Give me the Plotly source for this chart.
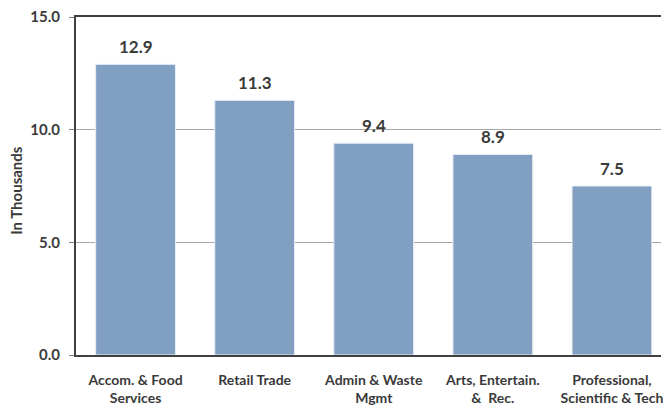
import plotly.graph_objects as go

categories = ["Accom. & Food<br>Services", "Retail Trade", "Admin & Waste<br>Mgmt",
              "Arts, Entertain.<br>&  Rec.", "Professional,<br>Scientific & Tech"]
values = [12.9, 11.3, 9.4, 8.9, 7.5]
labels = ["12.9", "11.3", "9.4", "8.9", "7.5"]
tick_vals = [0, 5, 10, 15]
tick_text = ["0.0", "5.0", "10.0", "15.0"]

FONT = "Lato"
TXT = "#3A3A3A"

fig = go.Figure(go.Bar(
    x=list(range(len(categories))), y=values,
    marker=dict(color="#819FC0", line=dict(color="#E8EEF5", width=1)),
    width=0.67,
))

for i, (v, t) in enumerate(zip(values, labels)):
    fig.add_annotation(x=i, y=v, text=t, showarrow=False, yanchor="bottom", yshift=5,
                       font=dict(family=FONT, size=17, color=TXT, weight="bold"))

fig.add_annotation(xref="paper", yref="paper", x=-0.102, y=0.487, text="In Thousands",
                   textangle=-90, showarrow=False, xanchor="center", yanchor="middle",
                   font=dict(family=FONT, size=15, color=TXT, weight="bold"))

fig.update_layout(
    width=663, height=406,
    margin=dict(l=76, r=0, t=17, b=50),
    plot_bgcolor="white", paper_bgcolor="white",
    showlegend=False,
    font=dict(family=FONT, color=TXT),
)
fig.update_xaxes(
    tickmode="array", tickvals=list(range(len(categories))), ticktext=categories,
    range=[-0.5, 4.412], showgrid=False, showline=True, linecolor="#404040", linewidth=2,
    mirror=True, ticks="", ticklabelstandoff=11, ticklabeloverflow="allow",
    tickfont=dict(family=FONT, size=14, color=TXT, weight="bold"),
)
fig.update_yaxes(
    range=[0, 15], tickvals=tick_vals, ticktext=tick_text,
    showgrid=True, gridcolor="#A6A6A6", gridwidth=1,
    showline=True, linecolor="#404040", linewidth=2,
    ticks="outside", ticklen=5, tickcolor="#808080", ticklabelstandoff=6,
    tickfont=dict(family=FONT, size=15, color=TXT, weight="bold"),
    zeroline=False,
)
fig.write_html("out.html")
